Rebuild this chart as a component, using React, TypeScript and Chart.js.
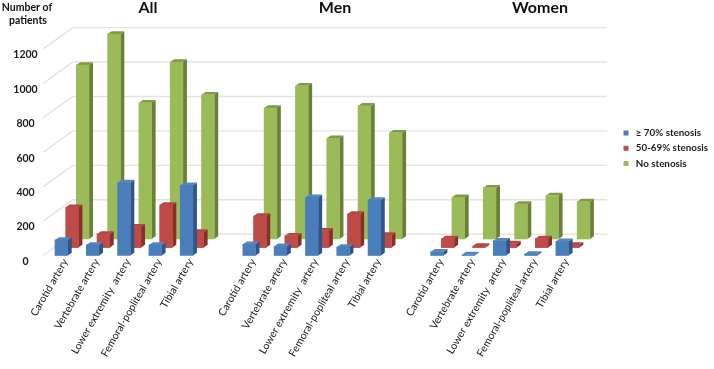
import React, { useEffect, useRef } from "react";
import { Chart, registerables } from "chart.js";

Chart.register(...registerables);

const categories = [
  "Carotid artery", "Vertebrate artery", "Lower extremity  artery", "Femoral-popliteal artery", "Tibial artery", "",
  "Carotid artery", "Vertebrate artery", "Lower extremity  artery", "Femoral-popliteal artery", "Tibial artery", "",
  "Carotid artery", "Vertebrate artery", "Lower extremity  artery", "Femoral-popliteal artery", "Tibial artery",
];
const severe = [90, 61, 423, 61, 408, null, 65, 53, 338, 49, 322, null, 22, 5, 86, 8, 82];
const moderate = [234, 79, 121, 247, 91, null, 183, 69, 98, 195, 73, null, 52, 9, 23, 52, 15];
const none = [1010, 1190, 791, 1028, 838, null, 761, 890, 585, 773, 617, null, 242, 298, 203, 252, 217];
const seriesNames = ["≥ 70% stenosis", "50-69% stenosis", "No stenosis"];
const yTicks = [0, 200, 400, 600, 800, 1000, 1200];
const panelTitles = ["All", "Men", "Women"];
const panelTitleX = [148, 335, 540];

const FONT = "Lato, 'Open Sans', sans-serif";
const TEXT = "#1c1c1c";
const faces = [
  { front: "#4a7ebb", side: "#2f5488", top: "#5586c0", dx: 0, dy: 0 },
  { front: "#be4b48", side: "#8a2e2c", top: "#b54643", dx: 10.7, dy: -7.9 },
  { front: "#9bbb59", side: "#6a8039", top: "#7f9a42", dx: 21.3, dy: -16.5 },
];
const BAR_DX = 4;
const BAR_DY = -2.8;
const WALL_DX = 29.5;
const WALL_DY = -21.3;
const WALL_RIGHT = 607;

const depthPlugin = {
  id: "depth3d",
  afterLayout(chart: any) {
    const lg = chart.legend;
    if (lg) {
      lg.top -= 4;
      lg.bottom -= 4;
      lg.left += 4;
      lg.right += 4;
    }
  },
  beforeDatasetsDraw(chart: any) {
    const { ctx, chartArea } = chart;
    const y = chart.scales.y;
    ctx.save();
    ctx.lineWidth = 1.4;
    yTicks.forEach((t) => {
      const p = y.getPixelForValue(t);
      ctx.strokeStyle = t === 0 ? "#e9e6d8" : "#e3e3e3";
      ctx.beginPath();
      ctx.moveTo(chartArea.left - 2.5, p);
      ctx.lineTo(chartArea.left - 2.5 + WALL_DX, p + WALL_DY);
      ctx.lineTo(WALL_RIGHT, p + WALL_DY);
      ctx.stroke();
    });
    ctx.restore();
  },
  beforeDatasetDraw(chart: any, args: any) {
    const { ctx } = chart;
    const f = faces[args.index];
    const values = chart.data.datasets[args.index].data;
    ctx.save();
    ctx.translate(f.dx, f.dy);
    args.meta.data.forEach((el: any, i: number) => {
      if (values[i] == null) return;
      const l = el.x - el.width / 2;
      const r = el.x + el.width / 2;
      ctx.fillStyle = f.side;
      ctx.beginPath();
      ctx.moveTo(r, el.y);
      ctx.lineTo(r + BAR_DX, el.y + BAR_DY);
      ctx.lineTo(r + BAR_DX, el.base + BAR_DY);
      ctx.lineTo(r, el.base);
      ctx.closePath();
      ctx.fill();
      ctx.fillStyle = f.top;
      ctx.beginPath();
      ctx.moveTo(l, el.y);
      ctx.lineTo(l + BAR_DX, el.y + BAR_DY);
      ctx.lineTo(r + BAR_DX, el.y + BAR_DY);
      ctx.lineTo(r, el.y);
      ctx.closePath();
      ctx.fill();
    });
  },
  afterDatasetDraw(chart: any) {
    chart.ctx.restore();
  },
  afterDraw(chart: any) {
    const { ctx } = chart;
    ctx.save();
    ctx.fillStyle = "#111";
    ctx.textAlign = "center";
    ctx.textBaseline = "middle";
    ctx.font = `bold 16px ${FONT}`;
    panelTitles.forEach((t, i) => ctx.fillText(t, panelTitleX[i], 8));
    ctx.font = `bold 10.5px ${FONT}`;
    ctx.fillText("Number of", 27, 8);
    ctx.fillText("patients", 28, 21);
    ctx.restore();
  },
};

export default function App() {
  const ref = useRef<HTMLCanvasElement>(null);
  useEffect(() => {
    const chart = new Chart(ref.current!, {
      type: "bar",
      data: {
        labels: categories,
        datasets: [severe, moderate, none].map((d, i) => ({
          label: seriesNames[i],
          data: d,
          backgroundColor: faces[i].front,
          borderWidth: 0,
          barThickness: 12.7,
          grouped: false,
          clip: false,
        })),
      } as any,
      options: {
        responsive: false,
        animation: false,
        layout: { padding: { top: 48.9 } },
        plugins: {
          tooltip: { enabled: false },
          legend: {
            position: "right",
            fullSize: false,
            labels: {
              usePointStyle: true,
              pointStyle: "rect",
              boxWidth: 12,
              boxHeight: 5,
              padding: 5.5,
              color: TEXT,
              font: { family: FONT, size: 9.8, weight: "bold" },
            },
          },
        },
        scales: {
          x: {
            grid: { display: false },
            border: { display: false },
            afterFit(s: any) {
              s.height = 113.5;
            },
            ticks: {
              autoSkip: false,
              minRotation: 60,
              maxRotation: 60,
              labelOffset: 4,
              padding: -7,
              color: TEXT,
              font: { family: FONT, size: 10.5 },
            },
          },
          y: {
            min: 0,
            max: 1200,
            afterFit(s: any) {
              s.width = 45.7;
            },
            afterBuildTicks(s: any) {
              s.ticks = yTicks.map((value) => ({ value }));
            },
            grid: { display: false },
            border: { display: false },
            ticks: {
              crossAlign: "center",
              padding: 0,
              labelOffset: 6,
              color: TEXT,
              callback: (v: number) => String(v),
              font: { family: FONT, size: 10.5, weight: "bold" },
            },
          },
          y2: {
            position: "right",
            display: true,
            grid: { display: false },
            border: { display: false },
            ticks: { display: false },
            afterFit(s: any) {
              s.width = 136.1 - (s.chart.legend?.width || 95);
            },
          },
        },
      } as any,
      plugins: [depthPlugin as any],
    });
    return () => chart.destroy();
  }, []);
  return (
    <div style={{ position: "fixed", left: 0, top: 0, width: 714, height: 369, background: "#fff" }}>
      <canvas ref={ref} width={714} height={369} style={{ display: "block" }} />
    </div>
  );
}
